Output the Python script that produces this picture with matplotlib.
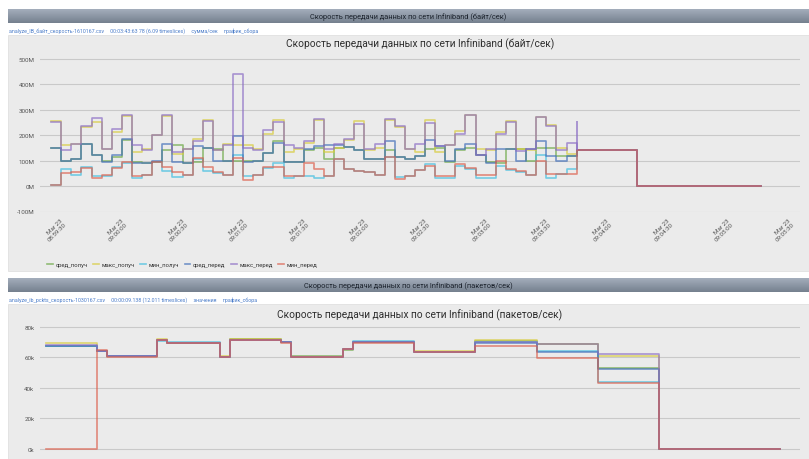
import numpy as np
import pandas as pd
import matplotlib
matplotlib.use('Agg')
import matplotlib.pyplot as plt
from matplotlib.patches import Rectangle
from matplotlib.ticker import FuncFormatter

plt.rcParams['font.family'] = ['Roboto', 'DejaVu Sans']

names = ['сред_получ', 'макс_получ', 'мин_получ', 'сред_перед', 'макс_перед', 'мин_перед']
colors = ['#6aa843', '#d8cc3a', '#3fbde0', '#3f6db8', '#8a6cc4', '#dc5f4c']

# --- chart 1: bytes/sec (millions), 5 s steps starting 08:59:25.5
avg_rx = [148, 100, 105, 165, 120, 100, 115, 180, 95, 90, 95, 140, 160, 90, 95, 150, 145, 100,
          100, 100, 100, 130, 175, 95, 95, 140, 150, 105, 150, 151, 140, 105, 105, 140, 112, 105,
          118, 145, 150, 95, 140, 150, 120, 95, 92, 145, 145, 99, 150, 150, 116, 118]
max_rx = [253, 160, 165, 230, 250, 145, 213, 276, 132, 145, 200, 275, 125, 145, 185, 260, 140, 165,
          160, 160, 145, 205, 260, 135, 145, 170, 258, 135, 150, 180, 254, 140, 150, 258, 230, 145,
          135, 257, 132, 160, 215, 280, 145, 140, 210, 255, 145, 140, 270, 240, 150, 125]
min_rx = [5, 65, 45, 75, 40, 40, 75, 90, 30, 45, 95, 60, 35, 45, 105, 60, 50, 45,
          120, 40, 45, 70, 90, 30, 40, 40, 33, 40, 105, 66, 59, 53, 42, 112, 35, 40,
          62, 86, 33, 33, 80, 65, 33, 33, 79, 62, 55, 42, 121, 33, 46, 66]
avg_tx = [148, 100, 105, 165, 120, 95, 120, 185, 90, 90, 100, 165, 95, 90, 155, 150, 100, 100,
          195, 95, 100, 130, 170, 95, 95, 145, 158, 160, 160, 151, 140, 105, 105, 178, 112, 105,
          118, 182, 158, 100, 145, 164, 121, 92, 145, 145, 99, 145, 178, 116, 99, 118]
max_tx = [250, 140, 165, 235, 265, 145, 225, 280, 160, 140, 200, 280, 135, 145, 175, 255, 140, 160,
          440, 150, 140, 220, 250, 160, 150, 175, 263, 145, 164, 184, 245, 145, 164, 263, 234, 145,
          164, 247, 158, 160, 205, 280, 121, 145, 204, 250, 138, 145, 270, 237, 141, 168]
min_tx = [5, 50, 55, 70, 30, 45, 70, 95, 40, 45, 95, 75, 55, 45, 110, 75, 55, 45,
          110, 25, 45, 75, 75, 40, 40, 92, 66, 40, 105, 66, 59, 53, 42, 112, 26, 40,
          62, 80, 40, 40, 86, 72, 42, 42, 99, 66, 59, 42, 99, 46, 46, 46]
tail_times = ['09:03:45.5', '09:04:15.5', '09:05:16.5']
tail_vals = [140, 0, 0]
spike_max_tx = 255

tick_labels = ['08:59:30', '09:00:00', '09:00:30', '09:01:00', '09:01:30', '09:02:00', '09:02:30',
               '09:03:00', '09:03:30', '09:04:00', '09:04:30', '09:05:00', '09:05:30']

# --- chart 2: packets/sec (thousands)
pk_times = ['08:59:23', '08:59:48', '08:59:53', '09:00:18', '09:00:23', '09:00:49', '09:00:54',
            '09:01:19', '09:01:24', '09:01:50', '09:01:55', '09:02:25', '09:02:55', '09:03:26',
            '09:03:56', '09:04:26', '09:05:26']
pk_avg_rx = [67.8, 64.0, 60.8, 71.5, 69.5, 60.5, 72.0, 70.0, 60.8, 65.0, 70.0, 63.8, 70.5, 68.5, 53.0, 0]
pk_max_rx = [69.3, 64.5, 61.0, 72.0, 69.5, 61.0, 72.0, 70.0, 60.5, 65.5, 70.0, 64.0, 71.2, 69.0, 61.2, 0]
pk_min_rx = [67.8, 64.5, 60.8, 71.0, 70.0, 60.5, 71.5, 70.0, 60.3, 65.5, 70.5, 63.8, 70.0, 64.5, 44.2, 0]
pk_avg_tx = [67.8, 64.5, 60.8, 71.5, 69.5, 60.5, 71.5, 70.0, 60.3, 65.5, 70.0, 63.8, 69.5, 63.8, 52.5, 0]
pk_max_tx = [68.2, 64.5, 60.8, 71.5, 69.5, 60.5, 71.5, 70.0, 60.3, 65.5, 70.0, 63.8, 70.3, 68.9, 62.3, 0]
pk_min_tx = [0, 64.8, 60.5, 71.5, 69.3, 60.3, 71.5, 69.5, 60.1, 65.3, 69.5, 63.8, 67.3, 59.5, 43.3, 0]

day = '2013-03-23 '
W, H = 809, 460
fig = plt.figure(figsize=(W / 100, H / 100), dpi=100, facecolor='white')


def px(x, y, w, h):
    # pixel box (top-left origin) -> figure fraction rect
    return [x / W, 1 - (y + h) / H, w / W, h / H]


def header(y, text, link):
    grad = np.linspace(0, 1, 20).reshape(-1, 1)
    hax = fig.add_axes(px(8, y, W - 8, 14))
    hax.imshow(grad, aspect='auto', cmap=matplotlib.colors.LinearSegmentedColormap.from_list(
        'h', ['#a3adbb', '#76818f']), extent=[0, 1, 0, 1])
    hax.axis('off')
    hax.text(0.5, 0.5, text, ha='center', va='center', fontsize=5.3, color='#1b222c')
    fig.text(9 / W, 1 - (y + 21) / H, link, fontsize=3.8, color='#4a7cc9', va='center')


def panel(y, h):
    fig.patches.append(Rectangle((8 / W, 1 - (y + h) / H), (W - 8) / W, h / H,
                                 transform=fig.transFigure, facecolor='#ebebeb',
                                 edgecolor='#dddddd', lw=0.5, zorder=-5))


panel(36, 236)
panel(305, 160)
header(10, 'Скорость передачи данных по сети Infiniband (байт/сек)',
       'analyze_IB_байт_скорость-1610167.csv     00:03:43:63 78 (6.09 timeslices)     сумма/сек     график_сбора')
header(279, 'Скорость передачи данных по сети Infiniband (пакетов/сек)',
       'analyze_ib_pckts_скорость-1030167.csv     00:00:09.138 (12.011 timeslices)     значения     график_сбора')


def style(ax):
    ax.set_facecolor('none')
    for s in ax.spines.values():
        s.set_visible(False)
    ax.grid(axis='y', color='#c9c9c9', lw=0.8)
    ax.set_axisbelow(True)
    ax.tick_params(axis='both', length=0, labelsize=4.5, labelcolor='#555555', pad=4)


# ---- top chart
ax1 = fig.add_axes(px(40, 59, 760, 153.5))
style(ax1)
t1 = pd.date_range(day + '08:59:25.5', periods=len(avg_rx), freq='5s')
t1 = t1.append(pd.to_datetime([day + s for s in tail_times]))
top_series = [avg_rx, max_rx, min_rx, avg_tx, max_tx, min_tx]
lines = []
for vals, c, n in zip(top_series, colors, names):
    y = np.array(vals + tail_vals, dtype=float) * 1e6
    ln, = ax1.plot(t1, y, drawstyle='steps-post', color=c, lw=1.2, alpha=0.7, label=n)
    lines.append(ln)
ax1.vlines(t1[len(avg_rx)], tail_vals[0] * 1e6, spike_max_tx * 1e6, color=colors[4], lw=1.2, alpha=0.8)
ax1.set_ylim(-100e6, 502e6)
ax1.set_yticks(np.arange(-100e6, 501e6, 100e6))
ax1.yaxis.set_major_formatter(FuncFormatter(lambda v, p: f'{int(round(v / 1e6))}M'))
ax1.set_xlim(pd.Timestamp(day + '08:59:20'), pd.Timestamp(day + '09:05:36'))
ax1.set_xticks(pd.to_datetime([day + s for s in tick_labels]))
ax1.set_xticklabels(['Mar 23\n' + s for s in tick_labels], rotation=45, ha='right', va='top',
                    rotation_mode='anchor', fontsize=4.5, linespacing=1.1)
ax1.set_title('Скорость передачи данных по сети Infiniband (байт/сек)', fontsize=7.3,
              color='#2e2e2e', pad=8)

fig.legend(handles=lines, loc='center left', bbox_to_anchor=(42 / W, 1 - 265 / H), ncol=6,
           frameon=False, fontsize=4.2, handlelength=1.0, handletextpad=0.4, columnspacing=1.0,
           labelcolor='#333333')

# ---- bottom chart
ax2 = fig.add_axes(px(40, 327, 760, 133))
style(ax2)
t2 = pd.to_datetime([day + s for s in pk_times])
pk_series = [pk_avg_rx, pk_max_rx, pk_min_rx, pk_avg_tx, pk_max_tx, pk_min_tx]
for vals, c in zip(pk_series, colors):
    y = np.array(vals + [vals[-1]], dtype=float) * 1000
    ax2.plot(t2, y, drawstyle='steps-post', color=c, lw=1.2, alpha=0.7)
ax2.set_ylim(-6560, 80600)
ax2.set_yticks(np.arange(0, 80001, 20000))
ax2.yaxis.set_major_formatter(FuncFormatter(lambda v, p: f'{int(v / 1000)}k'))
ax2.set_xlim(pd.Timestamp(day + '08:59:20'), pd.Timestamp(day + '09:05:36'))
ax2.set_xticks([])
ax2.set_title('Скорость передачи данных по сети Infiniband (пакетов/сек)', fontsize=7.3,
              color='#2e2e2e', pad=6)

fig.savefig('out.png', dpi=100, facecolor='white')
